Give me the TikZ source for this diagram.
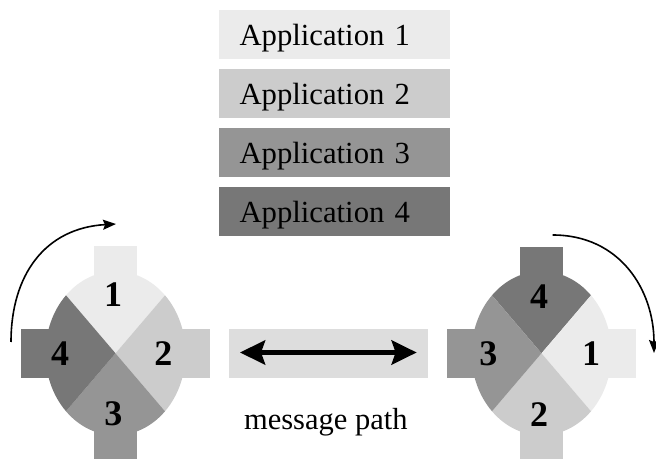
\documentclass[tikz,border=0pt]{standalone}
\usepackage{fontspec}
\setmainfont{Liberation Serif}
\usetikzlibrary{arrows.meta}
\definecolor{cA}{HTML}{EBEBEB}
\definecolor{cB}{HTML}{CCCCCC}
\definecolor{cC}{HTML}{959595}
\definecolor{cD}{HTML}{777777}
\definecolor{cM}{HTML}{DDDDDD}
\begin{document}
\begin{tikzpicture}[x=1pt,y=1pt,
  appbox/.style={fill=#1, draw=none, text width=190pt, align=left,
    inner xsep=20.5pt, inner ysep=10pt, text height=25.7pt, text depth=3.3pt,
    font=\fontsize{30.7}{36}\selectfont},
  numlabel/.style={font=\fontsize{36}{40}\bfseries\selectfont, inner sep=0pt},
  msgbox/.style={fill=cM, draw=none, minimum width=198.7pt, minimum height=48.7pt, inner sep=0pt},
  msgarrow/.style={line width=5.5pt, {Stealth[length=25pt,width=24pt,inset=4pt]}-{Stealth[length=25pt,width=24pt,inset=4pt]}},
  turnarrow/.style={line width=1.6pt, -{Stealth[length=13pt,width=10pt,inset=2pt]}},
]
\useasboundingbox (0,0) rectangle (656,458);

% application legend
\node[appbox=cA] (app1) at (334.5,423.5) {Application 1};
\node[appbox=cB] (app2) at (334.5,364.5) {Application 2};
\node[appbox=cC] (app3) at (334.5,305.5) {Application 3};
\node[appbox=cD] (app4) at (334.5,246.5) {Application 4};

% left rotor
\begin{scope}[shift={(115.5,104.7)}]
  \fill[cD] (-94.5,-24.3) rectangle (-40,24.3);
  \fill[cB] (40,-24.3) rectangle (94.5,24.3);
  \fill[cA] (-21.6,40) rectangle (21.6,107.3);
  \fill[cC] (-21.6,-40) rectangle (21.6,-110);
  \fill[cA] (0,0) -- (135:70 and 82) arc[start angle=135,end angle=45,x radius=70,y radius=82] -- cycle;
  \fill[cB] (0,0) -- (45:70 and 82) arc[start angle=45,end angle=-45,x radius=70,y radius=82] -- cycle;
  \fill[cC] (0,0) -- (-45:70 and 82) arc[start angle=-45,end angle=-135,x radius=70,y radius=82] -- cycle;
  \fill[cD] (0,0) -- (-135:70 and 82) arc[start angle=-135,end angle=-225,x radius=70,y radius=82] -- cycle;
\end{scope}
\node[numlabel] (l1) at (113,163.3) {1};
\node[numlabel] (l2) at (163.3,104) {2};
\node[numlabel] (l3) at (113.3,44.7) {3};
\node[numlabel] (l4) at (60,104.7) {4};

% right rotor
\begin{scope}[shift={(541.5,104.7)}]
  \fill[cC] (-94.2,-24.3) rectangle (-40,24.3);
  \fill[cA] (40,-24.3) rectangle (94.2,24.3);
  \fill[cD] (-21.3,40) rectangle (21.3,106.3);
  \fill[cB] (-21.3,-40) rectangle (21.3,-110);
  \fill[cD] (0,0) -- (135:70 and 82) arc[start angle=135,end angle=45,x radius=70,y radius=82] -- cycle;
  \fill[cA] (0,0) -- (45:70 and 82) arc[start angle=45,end angle=-45,x radius=70,y radius=82] -- cycle;
  \fill[cB] (0,0) -- (-45:70 and 82) arc[start angle=-45,end angle=-135,x radius=70,y radius=82] -- cycle;
  \fill[cC] (0,0) -- (-135:70 and 82) arc[start angle=-135,end angle=-225,x radius=70,y radius=82] -- cycle;
\end{scope}
\node[numlabel] (r4) at (539,161.3) {4};
\node[numlabel] (r1) at (591,104) {1};
\node[numlabel] (r2) at (539,43) {2};
\node[numlabel] (r3) at (488.3,104) {3};

% message path
\node[msgbox] (msg) at (328.3,104.7) {};
\coordinate (ml) at (240,105.5);
\coordinate (mr) at (416.7,105.5);
\draw[msgarrow] (ml) -- (mr);
\node[font=\fontsize{30.5}{36}\selectfont, anchor=base, inner sep=0pt] (mp) at (325.8,29) {message path};

% rotation arrows
\coordinate (la) at (11,116);
\coordinate (lb) at (116,234);
\draw[turnarrow] (la) .. controls (11,183) and (45,230) .. (lb);
\coordinate (ra) at (552.7,223);
\coordinate (rb) at (654,105);
\draw[turnarrow] (ra) .. controls (620,223) and (654,168) .. (rb);
\end{tikzpicture}
\end{document}
